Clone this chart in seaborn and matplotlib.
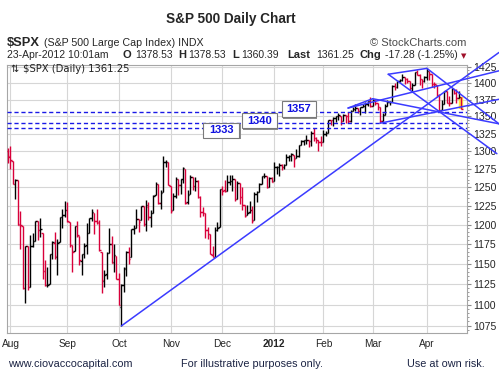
import numpy as np
import pandas as pd
import matplotlib
matplotlib.use("Agg")
import matplotlib.pyplot as plt
from matplotlib.patches import Rectangle
from matplotlib.ticker import FixedLocator, FixedFormatter, NullFormatter
import seaborn as sns

# ---------------- data ----------------
dates = (["2011-07-29"] +
         ["2011-08-%02d" % d for d in [1,2,3,4,5,8,9,10,11,12,15,16,17,18,19,22,23,24,25,26,29,30,31]] +
         ["2011-09-%02d" % d for d in [1,2,6,7,8,9,12,13,14,15,16,19,20,21,22,23,26,27,28,29,30]] +
         ["2011-10-%02d" % d for d in [3,4,5,6,7,10,11,12,13,14,17,18,19,20,21,24,25,26,27,28,31]] +
         ["2011-11-%02d" % d for d in [1,2,3,4,7,8,9,10,11,14,15,16,17,18,21,22,23,25,28,29,30]] +
         ["2011-12-%02d" % d for d in [1,2,5,6,7,8,9,12,13,14,15,16,19,20,21,22,23,27,28,29,30]] +
         ["2012-01-%02d" % d for d in [3,4,5,6,9,10,11,12,13,17,18,19,20,23,24,25,26,27,30,31]] +
         ["2012-02-%02d" % d for d in [1,2,3,6,7,8,9,10,13,14,15,16,17,21,22,23,24,27,28,29]] +
         ["2012-03-%02d" % d for d in [1,2,5,6,7,8,9,12,13,14,15,16,19,20,21,22,23,26,27,28,29,30]] +
         ["2012-04-%02d" % d for d in [2,3,4,5,9,10,11,12,13,16,17,18,19,20,23]])

opens = [1300.12,
    1292.59,1286.56,1254.25,1260.23,1200.28,1198.48,1120.23,1171.77,1121.30,1172.87,1178.86,1204.22,1192.89,1189.62,1140.47,1123.55,1124.36,1162.16,1176.69,1158.85,1177.91,1209.76,1213.00,
    1219.12,1203.90,1173.97,1165.85,1197.98,1185.37,1153.50,1162.59,1173.32,1189.44,1209.21,1214.99,1204.50,1203.63,1164.55,1128.82,1136.91,1163.32,1175.39,1151.74,1159.93,
    1131.21,1097.42,1124.03,1144.11,1165.03,1158.15,1194.60,1196.19,1206.96,1205.65,1224.47,1200.75,1223.46,1209.92,1215.39,1238.72,1254.19,1229.17,1243.97,1284.39,1284.96,
    1251.00,1219.62,1238.25,1260.82,1253.21,1261.12,1275.18,1229.59,1240.12,1263.85,1251.70,1257.81,1236.56,1216.19,1215.62,1192.98,1187.48,1161.41,1158.67,1192.56,1196.72,
    1246.91,1246.03,1244.33,1257.19,1258.14,1260.87,1234.48,1255.05,1236.83,1225.73,1212.12,1216.09,1219.74,1205.72,1241.25,1243.72,1254.00,1265.02,1265.38,1249.75,1262.82,
    1258.86,1277.03,1277.30,1280.93,1277.83,1280.77,1292.02,1292.48,1294.82,1290.22,1293.65,1308.07,1314.49,1315.29,1315.96,1314.40,1326.28,1318.25,1316.16,1313.53,
    1312.45,1324.24,1326.21,1344.32,1344.33,1347.04,1349.97,1351.21,1343.06,1351.30,1350.52,1342.61,1358.06,1361.22,1362.11,1357.53,1363.46,1365.20,1367.56,1372.20,
    1365.90,1374.09,1369.59,1363.63,1343.39,1352.65,1365.97,1370.78,1371.92,1395.95,1394.17,1402.55,1404.17,1409.59,1405.52,1402.89,1392.78,1397.11,1416.55,1412.52,1405.39,1403.31,
    1408.47,1418.98,1413.09,1398.79,1397.45,1382.18,1358.98,1368.77,1387.61,1370.27,1369.57,1390.78,1385.08,1376.96,1378.53]

highs = [1304.16,
    1307.38,1286.58,1261.20,1260.23,1218.11,1198.48,1172.88,1171.77,1186.29,1189.04,1204.49,1204.22,1208.47,1189.62,1154.54,1145.49,1162.35,1178.56,1190.68,1181.23,1210.08,1220.10,1230.71,
    1229.29,1203.90,1173.97,1198.62,1204.40,1185.37,1162.52,1176.41,1202.38,1209.11,1220.06,1214.99,1220.39,1206.30,1164.55,1141.72,1164.19,1195.86,1184.71,1175.09,1159.93,
    1138.99,1125.12,1146.07,1165.55,1171.40,1194.91,1199.24,1220.25,1207.46,1224.61,1224.47,1233.10,1229.64,1219.36,1239.03,1256.55,1254.19,1246.28,1292.66,1287.08,1284.96,
    1251.00,1242.48,1263.21,1260.82,1261.70,1277.55,1275.18,1246.22,1266.98,1263.85,1264.25,1259.61,1237.73,1223.51,1215.62,1196.81,1187.48,1172.66,1197.35,1203.67,1247.11,
    1251.09,1260.08,1266.73,1266.03,1267.06,1260.87,1258.25,1255.05,1249.86,1225.73,1225.60,1231.04,1224.57,1242.82,1245.09,1255.22,1265.42,1269.37,1265.85,1263.54,1264.12,
    1284.62,1278.73,1283.05,1281.84,1281.99,1296.46,1293.80,1296.82,1294.82,1303.00,1308.11,1315.49,1315.38,1322.28,1315.96,1328.30,1333.47,1320.06,1316.16,1321.41,
    1330.52,1329.19,1345.34,1344.36,1349.24,1351.00,1354.32,1351.21,1353.35,1351.30,1355.87,1359.02,1363.40,1367.76,1362.70,1364.24,1368.92,1371.94,1373.09,1378.04,
    1376.17,1374.53,1369.59,1363.63,1354.85,1368.72,1374.76,1373.04,1396.13,1399.42,1402.63,1405.88,1414.00,1409.59,1407.75,1402.89,1399.18,1416.58,1419.15,1413.65,1405.39,1410.89,
    1422.38,1419.00,1413.09,1401.60,1397.45,1383.01,1374.71,1388.13,1387.61,1379.66,1392.76,1390.78,1390.46,1387.40,1378.53]

lows = [1282.86,
    1274.73,1254.03,1234.56,1199.54,1168.09,1119.28,1101.54,1118.01,1121.30,1170.74,1178.86,1180.53,1184.36,1131.03,1122.05,1121.09,1124.36,1156.30,1155.47,1135.91,1177.91,1195.77,1209.35,
    1203.85,1170.56,1140.13,1165.85,1183.34,1148.37,1136.07,1157.44,1162.73,1189.44,1204.46,1188.36,1201.29,1166.21,1114.22,1121.36,1131.07,1163.32,1150.40,1139.93,1131.34,
    1098.92,1074.77,1115.68,1134.95,1150.26,1158.15,1187.30,1196.19,1190.58,1205.65,1198.55,1191.48,1206.31,1197.34,1215.39,1238.72,1226.79,1221.06,1243.97,1277.01,1253.16,
    1215.42,1219.62,1234.81,1238.92,1240.75,1254.99,1226.64,1227.70,1240.12,1246.68,1244.34,1235.67,1209.43,1211.36,1183.16,1181.65,1161.79,1158.66,1158.67,1191.80,1196.72,
    1239.73,1243.35,1244.33,1253.03,1244.80,1231.47,1234.48,1227.25,1219.43,1209.47,1212.12,1215.20,1202.37,1205.72,1229.51,1243.72,1254.00,1262.30,1248.64,1249.75,1257.46,
    1258.86,1268.10,1265.26,1273.34,1274.55,1280.77,1285.41,1285.77,1277.58,1290.22,1290.99,1308.07,1309.17,1309.89,1306.06,1307.65,1313.60,1311.72,1300.49,1306.69,
    1312.45,1321.57,1326.21,1337.52,1335.92,1341.95,1344.63,1337.35,1343.06,1340.83,1340.80,1341.22,1357.24,1358.11,1355.53,1352.28,1363.46,1354.92,1365.97,1363.81,
    1365.90,1366.42,1359.13,1340.03,1343.39,1352.65,1365.97,1366.69,1371.92,1389.97,1392.78,1401.47,1402.43,1397.68,1400.64,1388.73,1386.87,1397.11,1411.95,1397.20,1391.56,1401.42,
    1404.46,1404.62,1394.09,1392.92,1378.24,1357.38,1358.98,1368.77,1369.85,1365.38,1369.57,1383.29,1370.30,1376.96,1360.39]

closes = [1292.28,
    1286.94,1254.05,1260.34,1200.07,1199.38,1119.46,1172.53,1120.76,1172.64,1178.81,1204.49,1192.76,1193.89,1140.65,1123.53,1123.82,1162.35,1177.60,1159.27,1176.80,1210.08,1212.92,1218.89,
    1204.42,1173.97,1165.24,1198.62,1185.90,1154.23,1162.27,1172.87,1188.68,1209.11,1216.01,1204.09,1202.09,1166.76,1129.56,1136.43,1162.95,1175.38,1151.06,1160.40,1131.42,
    1099.23,1123.95,1144.03,1164.97,1155.46,1194.89,1195.54,1207.25,1203.66,1224.58,1200.86,1225.38,1209.88,1215.39,1238.25,1254.19,1229.05,1242.00,1284.59,1285.09,1253.30,
    1218.28,1237.90,1261.15,1253.23,1261.12,1275.92,1229.10,1239.70,1263.85,1251.78,1257.81,1236.91,1216.13,1215.65,1192.98,1188.04,1161.79,1158.67,1192.55,1195.19,1246.96,
    1244.58,1244.28,1257.08,1258.47,1261.01,1234.35,1255.19,1236.47,1225.73,1211.82,1215.75,1219.66,1205.35,1241.30,1243.72,1254.00,1265.33,1265.43,1249.64,1263.02,1257.60,
    1277.06,1277.30,1281.06,1277.81,1280.70,1292.08,1292.48,1295.50,1289.09,1293.67,1308.04,1314.50,1315.38,1316.00,1314.65,1326.06,1318.43,1316.33,1313.01,1312.41,
    1324.09,1325.54,1344.90,1344.33,1347.05,1349.96,1351.95,1342.64,1351.77,1350.50,1343.23,1358.04,1361.23,1362.21,1357.66,1363.46,1365.74,1367.59,1372.18,1365.68,
    1374.09,1369.63,1364.33,1343.36,1352.63,1365.91,1370.87,1371.09,1395.95,1394.28,1402.60,1404.17,1409.75,1405.52,1402.89,1392.78,1397.11,1416.51,1412.52,1405.54,1403.28,1408.47,
    1419.04,1413.38,1398.96,1398.08,1382.20,1358.59,1368.71,1387.57,1370.26,1369.57,1390.78,1385.14,1376.92,1378.53,1361.25]

# analyst trendlines: (start index, start price, end index, end price)
trend_x0 = [46, 154.3, 154.3, 170, 148, 151, 138.0, 138.0]
trend_p0 = [1074.77, 1413.3, 1413.3, 1422.38, 1376.17, 1340.03, 1362.3, 1362.3]
trend_x1 = [199.25, 170, 198.4, 199.25, 199.25, 199.25, 199.25, 148]
trend_p1 = [1447.2, 1422.38, 1296.3, 1339.1, 1339.1, 1375.3, 1418.6, 1376.17]

levels = [1357, 1340, 1333]
ytick_vals = list(range(1075, 1426, 25))

# ---------------- style ----------------
sns.set_style("white")
plt.rcParams["font.family"] = ["Liberation Sans", "DejaVu Sans"]

W, H = 499, 384
fig = plt.figure(figsize=(W / 100, H / 100), dpi=100)
L, R, T, B = 6.7, 467.0, 65.0, 333.0
ax = fig.add_axes([L / W, 1 - B / H, (R - L) / W, (B - T) / H])
ax.set_yscale("log")

def fx(x):
    return x / W

def fy(y):
    return 1 - y / H

n = len(dates)
x = np.arange(n)
o = np.array(opens); h = np.array(highs); lo = np.array(lows); c = np.array(closes)
prev = np.concatenate([[o[0]], c[:-1]])
RED, BLK = "#d8003a", "#000000"
cols = [RED if c[i] < prev[i] else BLK for i in range(n)]

# highlight latest bar
ax.vlines(x[-1], lo[-1], h[-1], color="#ffe640", lw=3.2, zorder=2)
ax.vlines(x, lo, h, colors=cols, lw=1.0, zorder=3)
ax.hlines(o, x - 0.6, x, colors=cols, lw=1.0, zorder=3)
ax.hlines(c, x, x + 0.6, colors=cols, lw=1.0, zorder=3)

# dashed support levels
for lv in levels:
    ax.axhline(lv, color="#1a1ae6", lw=1.0, ls=(0, (3, 2)), zorder=4)

# trendlines (seaborn)
for a0, p0, a1, p1 in zip(trend_x0, trend_p0, trend_x1, trend_p1):
    df = pd.DataFrame({"i": [a0, a1], "p": [p0, p1]})
    sns.lineplot(data=df, x="i", y="p", ax=ax, color="#3b3bff", lw=1.1,
                 estimator=None, sort=False, zorder=5)
    ax.lines[-1].set_clip_on(False)

ax.set_xlabel("")
ax.set_ylabel("")
ax.set_xlim(-0.54, 186.27)
ax.set_ylim(1066.5, 1427.6)

# month ticks
dts = pd.to_datetime(dates)
mpos, mlab = [], []
for i in range(1, n):
    if dts[i].month != dts[i - 1].month:
        mpos.append(i)
        mlab.append("2012" if dts[i].month == 1 else dts[i].strftime("%b"))
ax.set_xticks(mpos)
ax.set_xticklabels(mlab)
for t in ax.get_xticklabels():
    if t.get_text() == "2012":
        t.set_fontweight("bold")
        t.set_fontsize(8)
ax.tick_params(axis="x", length=0, pad=4, labelsize=7.3)

ax.yaxis.tick_right()
ax.yaxis.set_major_locator(FixedLocator(ytick_vals))
ax.yaxis.set_major_formatter(FixedFormatter([str(v) for v in ytick_vals]))
ax.yaxis.set_minor_locator(FixedLocator([v for v in range(1070, 1430, 5) if v % 25]))
ax.yaxis.set_minor_formatter(NullFormatter())
ax.tick_params(axis="y", which="major", length=3, color="#8a8a8a", pad=1.5, labelsize=7.6)
ax.tick_params(axis="y", which="minor", length=1.6, color="#8a8a8a")

ax.set_axisbelow(True)
ax.grid(True, which="major", color="#d6d6d6", lw=0.8)
for s in ax.spines.values():
    s.set_color("#a6a6a6")
    s.set_linewidth(0.8)

# level label boxes
boxes = [(281.7, 101.0, 34.0, 16.3, "1357"),
         (241.7, 113.3, 35.0, 15.0, "1340"),
         (202.7, 122.7, 36.6, 15.0, "1333")]
for bx, by, bw, bh, txt in boxes:
    fig.patches.append(Rectangle((fx(bx + 1.5), fy(by + bh + 1.5)), bw / W, bh / H,
                                 transform=fig.transFigure, fc="#8c8c8c", ec="none", zorder=6))
    fig.patches.append(Rectangle((fx(bx), fy(by + bh)), bw / W, bh / H,
                                 transform=fig.transFigure, fc="white", ec="#7a7a7a", lw=0.8, zorder=7))
    fig.text(fx(bx + bw / 2), fy(by + bh / 2), txt, ha="center", va="center",
             fontsize=8, fontweight="bold", color="#1010e0", zorder=8)

# header
fig.text(fx(230.8), fy(22.7), "S&P 500 Daily Chart", ha="center", va="baseline",
         fontsize=9.8, fontweight="bold")
fig.text(fx(6.7), fy(46), r"\$SPX", va="baseline", fontsize=9.3, fontweight="bold")
fig.text(fx(44.3), fy(46), "(S&P 500 Large Cap Index) INDX", va="baseline", fontsize=7.7)
fig.text(fx(466.7), fy(45.7), "\u00a9 StockCharts.com", ha="right", va="baseline",
         fontsize=8, color="#4a4a4a")

hdr = [(6.7, "23-Apr-2012 10:01am", False), (122.7, "O", True), (135.0, "1378.53", False),
       (178.3, "H", True), (188.3, "1378.53", False), (232.3, "L", True),
       (241.7, "1360.39", False), (287.7, "Last", True), (316.0, "1361.25", False),
       (360.0, "Chg", True), (385.0, "-17.28 (-1.25%)", False)]
for hx, ht, bold in hdr:
    fig.text(fx(hx), fy(58.5), ht, va="baseline", fontsize=8 if bold else 7.5,
             fontweight="bold" if bold else "normal")
fig.text(fx(463.3), fy(56.0), "\u25bc", ha="center", va="center", fontsize=5,
         color="#a0102a", family="DejaVu Sans")

# in-chart legend
fig.text(fx(10.0), fy(71.7), "\u21c5", va="baseline", fontsize=7, family="DejaVu Sans", color="#222222")
fig.text(fx(22.7), fy(71.7), r"\$SPX (Daily) 1361.25", va="baseline", fontsize=7.2,
         family="DejaVu Sans", color="#222222")

# footer
for fxp, ft in [(8.3, "www.ciovaccocapital.com"), (181.0, "For illustrative purposes only."),
                (407.3, "Use at own risk.")]:
    fig.text(fx(fxp), fy(366.7), ft, va="baseline", fontsize=7.8, color="#1c2444")

fig.savefig("out.png", dpi=100)
